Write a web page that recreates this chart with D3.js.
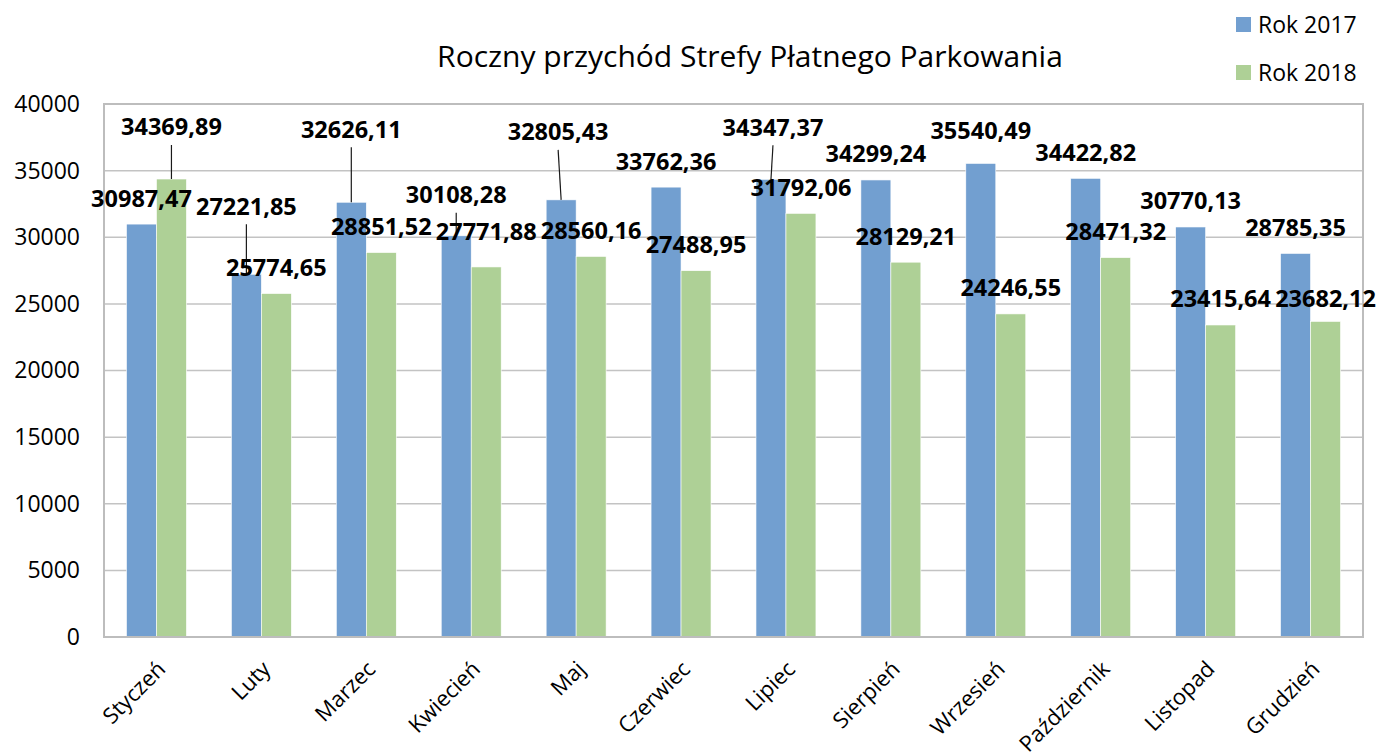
<!DOCTYPE html>
<html>
<head>
<meta charset="utf-8">
<script src="https://cdn.jsdelivr.net/npm/d3@7"></script>
<style>
  body { margin: 0; background: #fff; }
  text { font-family: "Open Sans", sans-serif; fill: #000; }
</style>
</head>
<body>
<div id="chart"></div>
<script>
var months = ["Styczeń", "Luty", "Marzec", "Kwiecień", "Maj", "Czerwiec",
              "Lipiec", "Sierpień", "Wrzesień", "Październik", "Listopad", "Grudzień"];
var values2017 = [30987.47, 27221.85, 32626.11, 30108.28, 32805.43, 33762.36,
                  34347.37, 34299.24, 35540.49, 34422.82, 30770.13, 28785.35];
var values2018 = [34369.89, 25774.65, 28851.52, 27771.88, 28560.16, 27488.95,
                  31792.06, 28129.21, 24246.55, 28471.32, 23415.64, 23682.12];
var seriesNames = ["Rok 2017", "Rok 2018"];
var yTicks = [0, 5000, 10000, 15000, 20000, 25000, 30000, 35000, 40000];

// labels that were dragged away from the bar in the original (extra px up, px sideways)
var lift2017 = [0, 42, 47, 15, 42, 0, 26, 0, 7, 0, 0, 0];
var shift2017 = [0, 0, 0, 0, -3, 0, 2, 0, 0, 0, 0, 0];
var lift2018 = [26, 0, 0, 9, 0, 0, 0, 0, 0, 0, 0, -3];
var shift2018 = [0, 0, 0, 0, 0, 0, 0, 0, 0, 0, 0, 0];

var colors = ["#729fd0", "#aed096"];

plot_bars("#chart");

function plot_bars(id) {
    var width = 1378, height = 755;
    var left = 104, right = 1363, top = 104, bottom = 637;

    var svg = d3.select(id).append("svg")
        .attr("width", width)
        .attr("height", height);

    var x = d3.scaleBand()
        .domain(months)
        .range([left, right]);

    var inner = d3.scaleBand()
        .domain(seriesNames)
        .range([0, x.bandwidth()])
        .paddingInner(0)
        .paddingOuter(0.75);

    var y = d3.scaleLinear()
        .domain([0, 40000])
        .range([bottom, top]);

    var fmt = function(v) { return d3.format(".2f")(v).replace(".", ","); };

    // grid lines
    svg.append("g")
        .selectAll("line")
        .data(yTicks.slice(1))
        .enter().append("line")
        .attr("x1", left).attr("x2", right)
        .attr("y1", function(d) { return y(d); })
        .attr("y2", function(d) { return y(d); })
        .attr("stroke", "#c3c3c3")
        .attr("stroke-width", 1.5);

    // y axis labels
    var yAxis = d3.axisLeft(y).tickValues(yTicks).tickSize(0).tickPadding(24)
        .tickFormat(d3.format("d"));
    var gy = svg.append("g")
        .attr("transform", "translate(" + left + ",0)")
        .call(yAxis);
    gy.select(".domain").remove();
    gy.selectAll("text").style("font-size", "23px").attr("fill", "#000");

    var series = [values2017, values2018];
    var lifts = [lift2017, lift2018];
    var shifts = [shift2017, shift2018];

    series.forEach(function(vals, s) {
        svg.append("g")
            .selectAll("rect")
            .data(vals)
            .enter().append("rect")
            .attr("x", function(d, i) { return x(months[i]) + inner(seriesNames[s]); })
            .attr("width", inner.bandwidth())
            .attr("y", function(d) { return y(d); })
            .attr("height", function(d) { return y(0) - y(d); })
            .attr("fill", colors[s])
            .attr("stroke", "#fff")
            .attr("stroke-width", 0.6);
    });

    // plot border
    svg.append("rect")
        .attr("x", left).attr("y", top)
        .attr("width", right - left).attr("height", bottom - top)
        .attr("fill", "none")
        .attr("stroke", "#bdbdbd")
        .attr("stroke-width", 2);

    // data labels with leader lines
    series.forEach(function(vals, s) {
        var g = svg.append("g");
        vals.forEach(function(v, i) {
            var bx = x(months[i]) + inner(seriesNames[s]) + inner.bandwidth() / 2;
            var by = y(v);
            var lx = bx + shifts[s][i];
            var ly = by - 26 - lifts[s][i];
            if (lifts[s][i] > 10) {
                g.append("line")
                    .attr("x1", lx).attr("y1", ly + 18)
                    .attr("x2", bx).attr("y2", by)
                    .attr("stroke", "#1a1a1a")
                    .attr("stroke-width", 1.2);
            }
            g.append("text")
                .attr("x", lx).attr("y", ly)
                .attr("dy", "0.36em")
                .attr("text-anchor", "middle")
                .style("font-size", "23.5px")
                .style("font-weight", "bold")
                .text(fmt(v));
        });
    });

    // category labels
    svg.append("g")
        .selectAll("text")
        .data(months)
        .enter().append("text")
        .attr("transform", function(d) {
            return "translate(" + (x(d) + x.bandwidth() / 2 + 5) + "," + (bottom + 28) + ") rotate(-45)";
        })
        .attr("text-anchor", "end")
        .attr("dy", "0.35em")
        .style("font-size", "22px")
        .text(function(d) { return d; });

    // title
    svg.append("text")
        .attr("x", 750).attr("y", 67)
        .attr("text-anchor", "middle")
        .style("font-size", "30px")
        .text("Roczny przychód Strefy Płatnego Parkowania");

    // legend
    var leg = svg.append("g")
        .selectAll("g")
        .data(seriesNames)
        .enter().append("g")
        .attr("transform", function(d, i) { return "translate(1236," + (17 + i * 48) + ")"; });
    leg.append("rect")
        .attr("width", 15).attr("height", 15)
        .attr("fill", function(d, i) { return colors[i]; });
    leg.append("text")
        .attr("x", 22).attr("y", 7.5)
        .attr("dy", "0.36em")
        .style("font-size", "23px")
        .text(function(d) { return d; });
}
</script>
</body>
</html>
